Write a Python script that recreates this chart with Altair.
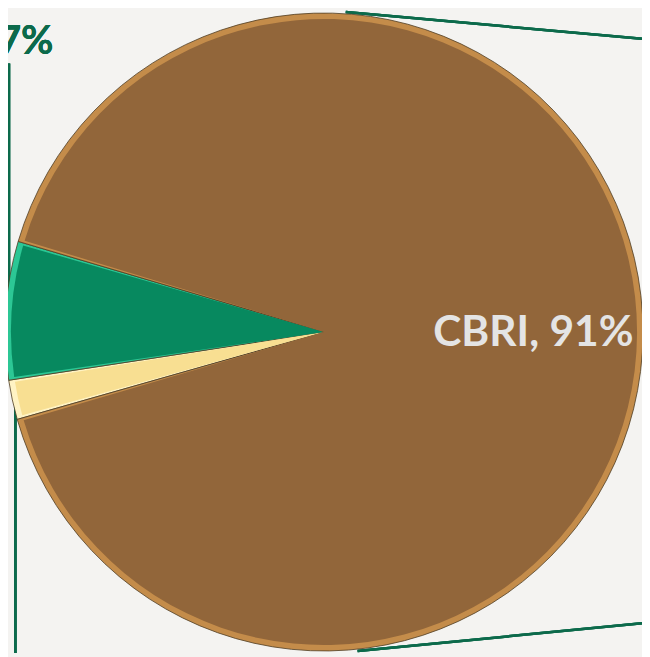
import math
import altair as alt
import pandas as pd

# ---- data ----
categories = ["Other 2", "Other 1", "CBRI"]
values = [2, 7, 91]
main_colors = ["#f8df92", "#07895f", "#92663a"]
rim_colors = ["#fff3c4", "#2cc795", "#c48c4a"]

df = pd.DataFrame({
    "category": categories,
    "value": values,
    "idx": list(range(len(categories))),
})
df["label"] = [f"{c}, {v}%" if c == "CBRI" else "" for c, v in zip(categories, values)]

green_label = f"{values[1]}%"

start = math.radians(254.1)
theta_scale = alt.Scale(range=[start, start + 2 * math.pi])

CX, CY = 320, 324
R = 323

base = alt.Chart(df).encode(
    theta=alt.Theta("value:Q", stack=True, scale=theta_scale),
    order=alt.Order("idx:Q"),
    x=alt.value(CX),
    y=alt.value(CY),
)

rim = base.mark_arc(radius=R, stroke="#4d3b22", strokeWidth=0.8).encode(
    fill=alt.Fill("category:N", scale=alt.Scale(domain=categories, range=rim_colors), legend=None)
)
main = base.mark_arc(radius=R - 6, padAngle=0.016).encode(
    color=alt.Color("category:N", scale=alt.Scale(domain=categories, range=main_colors), legend=None)
)
text = base.mark_text(radius=212, font="Lato", fontSize=43, fontWeight="bold",
                      color="#e4e4e4", align="center", baseline="middle").encode(
    text="label:N"
)

line_color = "#0c6a4b"
lines = [
    alt.Chart(df).mark_rule(color=line_color, strokeWidth=2.5).encode(
        x=alt.value(342), y=alt.value(0), x2=alt.value(642), y2=alt.value(27)),
    alt.Chart(df).mark_rule(color=line_color, strokeWidth=2.5).encode(
        x=alt.value(354), y=alt.value(647), x2=alt.value(642), y2=alt.value(619)),
    alt.Chart(df).mark_rule(color=line_color, strokeWidth=2.5).encode(
        x=alt.value(1), y=alt.value(52), x2=alt.value(1), y2=alt.value(330)),
    alt.Chart(df).mark_rule(color=line_color, strokeWidth=2.5).encode(
        x=alt.value(7.5), y=alt.value(330), x2=alt.value(7.5), y2=alt.value(649)),
]

green_text = alt.Chart(df).mark_text(
    text=green_label, font="Lato", fontSize=40, fontWeight="bold",
    color=line_color, align="right", baseline="alphabetic"
).encode(x=alt.value(46), y=alt.value(42))

chart = alt.layer(*lines, rim, main, text, green_text).resolve_scale(
    color="independent", fill="independent"
).properties(
    width=642, height=649, padding=0, background="#f4f3f1",
    autosize=alt.AutoSizeParams(type="none"),
).configure_view(stroke=None)

chart.save("out.html", embed_options={"renderer": "svg", "actions": False})
